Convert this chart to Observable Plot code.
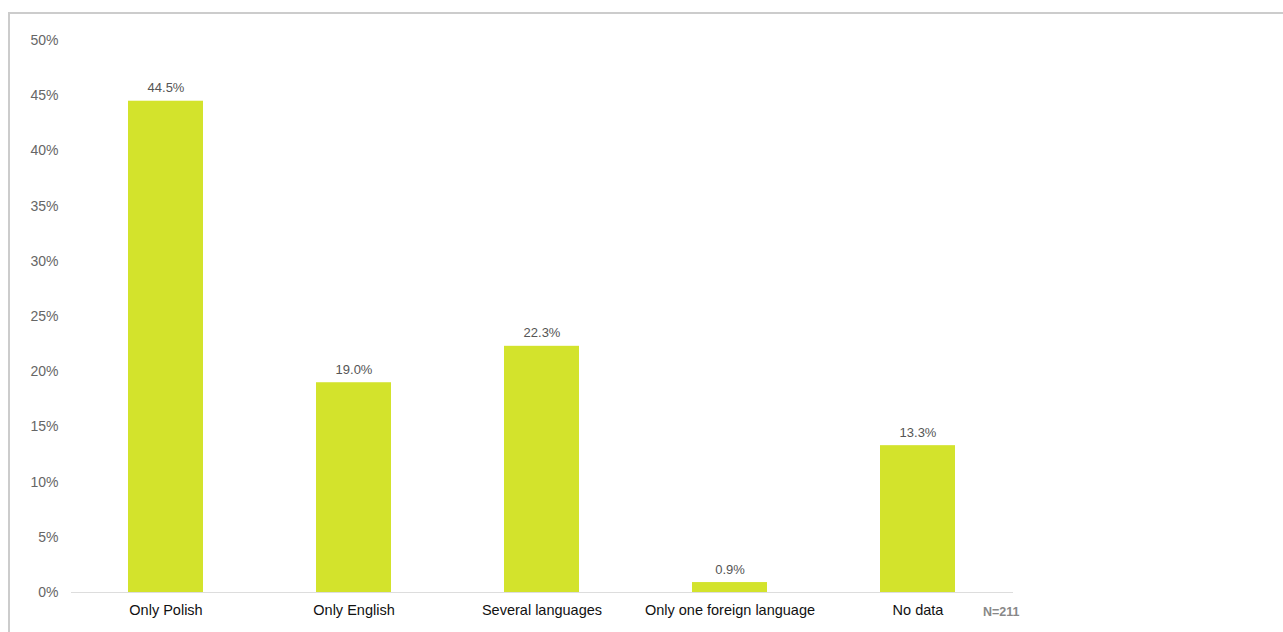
<!DOCTYPE html>
<html>
<head>
<meta charset="utf-8">
<script src="https://cdn.jsdelivr.net/npm/d3@7"></script>
<script src="https://cdn.jsdelivr.net/npm/@observablehq/plot@0.6"></script>
<style>
  html, body { margin: 0; padding: 0; background: #fff; overflow: hidden; }
  #frame { position: absolute; left: 8px; top: 12px; width: 1300px; height: 660px; border: 2px solid #cccccc; box-sizing: border-box; }
  #chart { position: absolute; left: 0; top: 0; }
</style>
</head>
<body>
<div id="frame"></div>
<div id="chart"></div>
<script>
const categories = ["Only Polish", "Only English", "Several languages", "Only one foreign language", "No data"];
const values = [44.5, 19.0, 22.3, 0.9, 13.3];
const yTicks = [0, 5, 10, 15, 20, 25, 30, 35, 40, 45, 50];
const caption = "N=211";

const data = categories.map((c, i) => ({category: c, value: values[i]}));

const chart = Plot.plot({
  width: 1283,
  height: 632,
  marginLeft: 71,
  marginRight: 270,
  marginTop: 40,
  marginBottom: 40,
  style: {fontFamily: "Liberation Sans, Arial, sans-serif", background: "transparent"},
  x: {domain: categories, paddingInner: 0.6, paddingOuter: 0.3, label: null},
  y: {domain: [0, 50], ticks: yTicks, label: null},
  marks: [
    Plot.axisY({ticks: yTicks, tickSize: 0, tickPadding: 13, tickFormat: d => d + "%", fontSize: 14, fill: "#666", label: null}),
    Plot.axisX({tickSize: 0, tickPadding: 12, fontSize: 14.5, fill: "#111", label: null}),
    Plot.barY(data, {x: "category", y: "value", fill: "#d3e32c"}),
    Plot.ruleY([0], {stroke: "#dddddd", strokeWidth: 1}),
    Plot.text(data, {x: "category", y: "value", text: d => d.value.toFixed(1) + "%", dy: -9, lineAnchor: "bottom", fontSize: 13, fill: "#555"}),
    Plot.text([caption], {frameAnchor: "bottom-right", text: d => d, textAnchor: "end", lineAnchor: "middle", dx: 6, dy: 19, fontSize: 12.5, fontWeight: "bold", fill: "#888"})
  ]
});
document.getElementById("chart").appendChild(chart);
</script>
</body>
</html>
